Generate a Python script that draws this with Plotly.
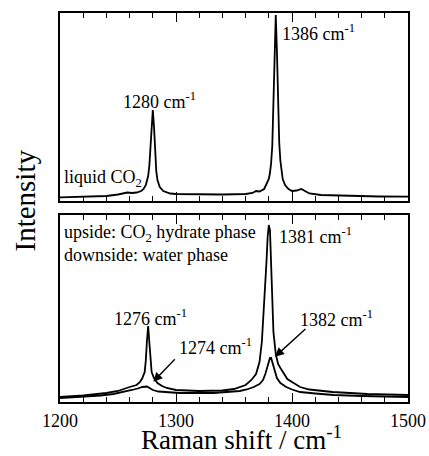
import plotly.graph_objects as go
from plotly.subplots import make_subplots

# Top panel: liquid CO2 spectrum
top_x = [1200, 1220, 1240, 1250, 1258, 1262, 1266, 1270, 1272, 1274, 1276, 1277, 1278, 1279, 1280,
         1281, 1282, 1283, 1284, 1286, 1289, 1295, 1300, 1320, 1340, 1360, 1366, 1369, 1372,
         1376, 1378, 1380, 1381, 1382, 1383, 1384, 1385, 1386, 1387, 1388, 1389, 1390, 1391,
         1392, 1394, 1397, 1400, 1404, 1408, 1411, 1415, 1425, 1450, 1475, 1500]
top_y = [3.7, 4.3, 5, 6.5, 8.5, 8, 8.5, 10, 12, 16, 25, 35, 55, 82, 91,
         75, 48, 30, 21, 14, 10, 7.5, 7, 6.5, 6.5, 7, 8, 10, 9.5,
         12, 17, 22, 28, 38, 55, 92, 150, 186, 150, 95, 58, 40, 29,
         22, 16, 12, 10, 10.5, 12, 10, 7.5, 6, 5, 4.5, 4.3]

# Bottom panel: upside (CO2 hydrate phase)
up_x = [1200, 1220, 1240, 1250, 1260, 1266, 1269, 1271, 1273, 1274, 1275, 1276, 1277, 1278, 1279,
        1281, 1284, 1288, 1292, 1300, 1320, 1340, 1350, 1360, 1365, 1369, 1372, 1374, 1376,
        1378, 1379, 1380, 1381, 1382, 1383, 1384, 1386, 1388, 1390, 1393, 1396, 1400, 1407,
        1415, 1435, 1465, 1500]
up_y = [5, 6.5, 9, 11, 15, 17, 20, 24, 30, 42, 62, 76, 60, 40, 30,
        24, 19, 16, 14, 12, 11, 11.5, 13, 17, 22, 28, 40, 60, 95,
        140, 165, 177, 172, 140, 100, 70, 48, 38, 34, 28, 23, 20, 15,
        12.5, 10, 8, 7]

# Bottom panel: downside (water phase)
down_x = [1200, 1217, 1235, 1246, 1255, 1262, 1267, 1271, 1275, 1277, 1280, 1285, 1290, 1303,
          1332, 1345, 1355, 1361, 1367, 1372, 1375, 1377, 1379, 1381, 1382, 1383, 1385, 1387,
          1390, 1395, 1400, 1407, 1420, 1436, 1460, 1493, 1500]
down_y = [4, 5, 6.5, 8, 10, 12, 13.5, 15, 15.5, 14, 12, 10.5, 10, 9,
          9, 10, 11, 12.5, 15, 18, 22, 28, 36, 44, 44, 40, 31, 24,
          19, 15, 12.5, 10, 8.5, 7, 6, 5, 5]

x_ticks = [1200, 1300, 1400, 1500]

FONT = "'Liberation Serif', 'Times New Roman', Times, serif"

fig = make_subplots(rows=2, cols=1, shared_xaxes=False, vertical_spacing=0.036)
line = dict(color="black", width=1.8)
fig.add_trace(go.Scatter(x=top_x, y=top_y, mode="lines", line=line), row=1, col=1)
fig.add_trace(go.Scatter(x=up_x, y=up_y, mode="lines", line=line), row=2, col=1)
fig.add_trace(go.Scatter(x=down_x, y=down_y, mode="lines", line=line), row=2, col=1)

xcommon = dict(range=[1200, 1500], showline=True, linecolor="black", linewidth=1.8,
               mirror="ticks", ticks="inside", ticklen=9, tickwidth=1.2, tickcolor="black",
               tickvals=x_ticks, showgrid=False, zeroline=False, automargin=False,
               ticklabelstandoff=1,
               minor=dict(dtick=20, tick0=1200, ticks="inside", ticklen=5, tickwidth=1.2,
                          tickcolor="black", showgrid=False),
               tickfont=dict(family=FONT, size=18, color="black"))
fig.update_xaxes(**xcommon)
fig.update_xaxes(showticklabels=False, row=1, col=1)
ycommon = dict(showline=True, linecolor="black", linewidth=1.8, mirror=True, ticks="",
               showticklabels=False, showgrid=False, zeroline=False, automargin=False)
fig.update_yaxes(**ycommon)
fig.update_yaxes(range=[0, 188], row=1, col=1)
fig.update_yaxes(range=[0, 187], row=2, col=1)

fig.update_layout(
    width=429, height=456, margin=dict(l=60, r=21, t=13, b=54, autoexpand=False),
    paper_bgcolor="white", plot_bgcolor="white", showlegend=False,
    font=dict(family=FONT, color="black"),
)
fig.update_layout(yaxis=dict(domain=[0.5167, 1.0]), yaxis2=dict(domain=[0.0, 0.4807]))

af = dict(family=FONT, size=18, color="black")
annots = [
    dict(x=1286.2, y=101, xref="x", yref="y", text="1280 cm<sup>-1</sup>", showarrow=False, font=af),
    dict(x=1389.7, y=169, xref="x", yref="y", text="1386 cm<sup>-1</sup>", showarrow=False, xanchor="left", font=af),
    dict(x=1201.7, y=23, xref="x", yref="y", text="liquid CO<sub>2</sub>", showarrow=False, xanchor="left", font=af),
    dict(x=1201.7, y=169, xref="x2", yref="y2", text="upside: CO<sub>2</sub> hydrate phase", showarrow=False, xanchor="left", font=af),
    dict(x=1201.7, y=147, xref="x2", yref="y2", text="downside: water phase", showarrow=False, xanchor="left", font=af),
    dict(x=1387, y=167, xref="x2", yref="y2", text="1381 cm<sup>-1</sup>", showarrow=False, xanchor="left", font=af),
    dict(x=1278.4, y=85, xref="x2", yref="y2", text="1276 cm<sup>-1</sup>", showarrow=False, font=af),
    dict(x=1300.9, y=55, xref="x2", yref="y2", text="1274 cm<sup>-1</sup>", showarrow=False, xanchor="left", font=af),
    dict(x=1405.2, y=84, xref="x2", yref="y2", text="1382 cm<sup>-1</sup>", showarrow=False, xanchor="left", font=af),
    dict(x=1280.4, y=20.3, xref="x2", yref="y2", text="", showarrow=True, ax=23, ay=-24,
         arrowhead=2, arrowsize=1.3, arrowwidth=1.4, arrowcolor="black"),
    dict(x=1385.3, y=45.3, xref="x2", yref="y2", text="", showarrow=True, ax=32, ay=-29,
         arrowhead=2, arrowsize=1.3, arrowwidth=1.4, arrowcolor="black"),
    dict(x=(24 - 60) / 348, y=(402 - 200.5) / 389, xref="paper", yref="paper", text="Intensity",
         xanchor="center", yanchor="middle",
         showarrow=False, textangle=-90, font=dict(family=FONT, size=29, color="black")),
    dict(x=(241.5 - 60) / 348, y=(402 - 456) / 389, xref="paper", yref="paper",
         xanchor="center", yanchor="bottom", borderpad=0,
         text="Raman shift / cm<sup>-1</sup>", showarrow=False,
         font=dict(family=FONT, size=27, color="black")),
]
for a in annots:
    fig.add_annotation(**a)

fig.write_html("out.html")
